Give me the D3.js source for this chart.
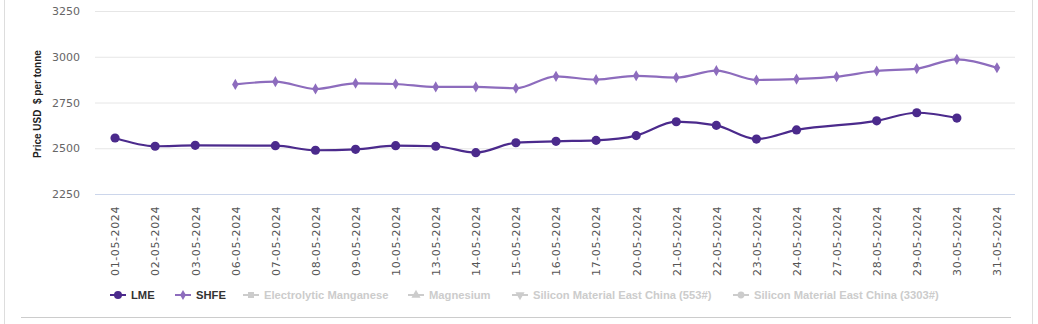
<!DOCTYPE html>
<html><head><meta charset="utf-8">
<script src="https://cdn.jsdelivr.net/npm/d3@7"></script>
<style>body{margin:0;background:#fff;}svg{display:block;}</style>
</head><body>
<svg id="c" width="1038" height="324"></svg>
<script>
const categories = ["01-05-2024","02-05-2024","03-05-2024","06-05-2024","07-05-2024","08-05-2024","09-05-2024","10-05-2024","13-05-2024","14-05-2024","15-05-2024","16-05-2024","17-05-2024","20-05-2024","21-05-2024","22-05-2024","23-05-2024","24-05-2024","27-05-2024","28-05-2024","29-05-2024","30-05-2024","31-05-2024"];
const lmeValues = [2556,2511,2516,null,2514,2489,2494,2514,2511,2476,2530,2538,2543,2569,2645,2625,2550,2600,null,2650,2694,2665,null];
const shfeValues = [null,null,null,2849,2864,2824,2855,2851,2835,2835,2828,2893,2875,2896,2886,2924,2873,2878,2891,2922,2935,2986,2940];
const yTicks = [2250,2500,2750,3000,3250];
const legendItems = ["LME","SHFE","Electrolytic Manganese","Magnesium","Silicon Material East China (553#)","Silicon Material East China (3303#)"];

(function(){
const svg = d3.select("#c");
const pLeft = 95, pRight = 1015, pTop = 11, pBottom = 194;
const x = d3.scalePoint().domain(categories).range([pLeft, 1017]).padding(0.5);
const y = d3.scaleLinear().domain([2250, 3250]).range([pBottom, pTop]);

// frame lines
svg.append("line").attr("x1",4.5).attr("x2",4.5).attr("y1",0).attr("y2",324).attr("stroke","#ddd");
svg.append("line").attr("x1",1032.5).attr("x2",1032.5).attr("y1",0).attr("y2",324).attr("stroke","#ddd");
svg.append("line").attr("x1",21).attr("x2",1011).attr("y1",317.5).attr("y2",317.5).attr("stroke","#ccc");

// grid
const yAxis = d3.axisLeft(y).tickValues(yTicks).tickSize(-(pRight-pLeft)).tickPadding(15).tickFormat(d3.format("d"));
const gy = svg.append("g").attr("transform",`translate(${pLeft},0)`).call(yAxis);
gy.select(".domain").remove();
gy.selectAll(".tick line").attr("stroke",d=>d===2250?"#ccd6eb":"#e6e6e6");
gy.selectAll(".tick text").attr("fill","#666").style("font-family","DejaVu Sans").style("font-size","11px");

// x axis labels
const xAxis = d3.axisBottom(x).tickSize(0).tickPadding(0);
const gx = svg.append("g").attr("transform",`translate(0,${pBottom})`).call(xAxis);
gx.select(".domain").remove();
gx.selectAll(".tick text")
  .attr("transform","rotate(-90)")
  .attr("text-anchor","end")
  .attr("x",-12).attr("y",0).attr("dy","0.35em")
  .attr("fill","#555").style("font-family","DejaVu Sans").style("font-size","11px")
  .style("letter-spacing","0.6px");

// y title
svg.append("text").attr("transform","translate(41,104) rotate(-90)").attr("text-anchor","middle")
  .style("font-family","Liberation Sans").style("font-weight","bold").style("font-size","10px").attr("fill","#222")
  .text("Price USD  $ per tonne").style("white-space","pre");

const lmeColor = "#4b2a8c", shfeColor = "#8d6cbd";
function drawSeries(vals, color, marker) {
  const pts = categories.map((c,i)=>({c, v: vals[i]})).filter(d=>d.v!=null);
  const line = d3.line().x(d=>x(d.c)).y(d=>y(d.v)).curve(d3.curveMonotoneX);
  svg.append("path").datum(pts).attr("d",line).attr("fill","none").attr("stroke",color).attr("stroke-width",2.2);
  const sym = marker==="circle" ? d3.symbol().type(d3.symbolCircle).size(66) : d3.symbol().type(d3.symbolDiamond).size(36);
  svg.append("g").selectAll("path").data(pts).join("path")
    .attr("transform",d=>`translate(${x(d.c)},${y(d.v)})`).attr("d",sym).attr("fill",color);
}
drawSeries(shfeValues, shfeColor, "diamond");
drawSeries(lmeValues, lmeColor, "circle");

// legend
const legX = [110,175,243,408,512,733];
const legColors = [lmeColor, shfeColor, "#ccc","#ccc","#ccc","#ccc"];
const legSyms = [d3.symbolCircle, d3.symbolDiamond, d3.symbolSquare, d3.symbolTriangle, d3.symbolTriangle, d3.symbolCircle];
const lg = svg.append("g").attr("transform","translate(0,295)");
legendItems.forEach((t,i)=>{
  const g = lg.append("g").attr("transform",`translate(${legX[i]},0)`);
  g.append("line").attr("x1",0).attr("x2",16).attr("y1",0).attr("y2",0).attr("stroke",legColors[i]).attr("stroke-width",2);
  const s = d3.symbol().type(legSyms[i]).size(i===0?50:(i===1?30:36));
  g.append("path").attr("d",s).attr("transform",`translate(8,0)${i===4?" rotate(180)":""}`).attr("fill",legColors[i]);
  g.append("text").attr("x",21).attr("y",0).attr("dy","0.35em")
    .style("font-family","Liberation Sans").style("font-weight","bold").style("font-size","11.2px")
    .attr("fill",i<2?"#333":"#ccc").text(t);
});
})();
</script>
</body></html>
